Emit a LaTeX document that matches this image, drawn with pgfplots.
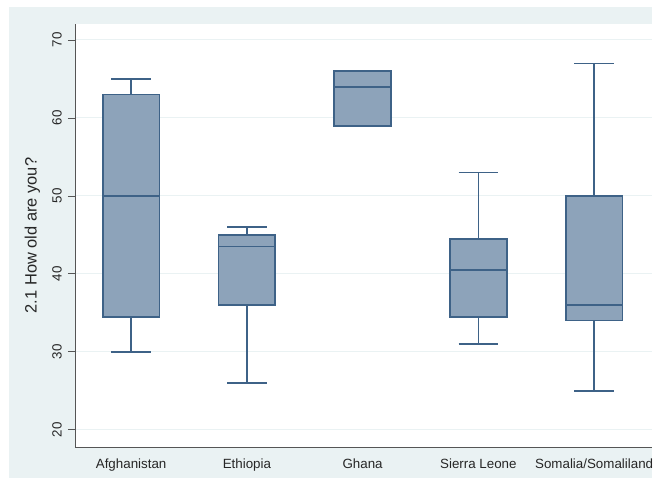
\documentclass[border=0pt]{standalone}
\usepackage{fontspec}
\setmainfont{Liberation Sans}
\usepackage{pgfplots}
\pgfplotsset{compat=1.18}
\definecolor{bgc}{RGB}{234,242,243}
\definecolor{gridc}{RGB}{234,242,243}
\definecolor{boxfill}{RGB}{141,163,186}
\definecolor{boxline}{RGB}{62,98,135}
\definecolor{axc}{RGB}{85,85,85}
\pgfplotsset{bx/.style={draw=boxline, line width=1.6pt, solid, mark=none}}
\begin{document}
\begin{tikzpicture}
\useasboundingbox (0bp,0bp) rectangle (657bp,484bp);
\fill[bgc] (9bp,6bp) rectangle (652bp,477bp);
\begin{axis}[
  at={(75bp,37bp)}, anchor=south west,
  scale only axis, width=577bp, height=423bp,
  xmin=-0.485, xmax=4.5, ymin=17.8, ymax=72.05,
  axis background/.style={fill=white},
  axis x line*=bottom, axis y line*=left,
  axis line style={draw=axc, line width=0.8pt, -},
  xtick={0,1,2,3,4},
  xticklabels={Afghanistan,Ethiopia,Ghana,Sierra Leone,Somalia/Somaliland},
  x tick style={draw=none},
  ytick={20,30,40,50,60,70},
  y tick style={draw=axc, line width=0.8pt},
  major tick length=7bp,
  tick align=outside,
  ymajorgrids, grid style={draw=gridc, line width=1pt},
  /pgf/number format/assume math mode=true,
  tick label style={font=\fontsize{13.4}{15}\selectfont, text=black!85},
  yticklabel style={xshift=-6bp, rotate=90, anchor=south, inner sep=0pt},
  xticklabel style={yshift=-5bp, anchor=north, inner sep=0pt},
  every axis y label/.style={at={(ticklabel cs:0.5)}, xshift=-12bp, rotate=90, anchor=south, inner sep=0pt},
  ylabel={2.1 How old are you?},
  ylabel style={font=\fontsize{16.5}{18}\selectfont, text=black!85},
  clip=false,
]
% boxes: half width 0.245; caps half width 0.17
% Afghanistan
\addplot[bx, fill=boxfill] coordinates {(-0.245,34.5) (0.245,34.5) (0.245,63) (-0.245,63)} -- cycle;
\addplot[bx] coordinates {(-0.245,50) (0.245,50)};
\addplot[bx] coordinates {(0,63) (0,65)};
\addplot[bx] coordinates {(-0.17,65) (0.17,65)};
\addplot[bx] coordinates {(0,34.5) (0,30)};
\addplot[bx] coordinates {(-0.17,30) (0.17,30)};
% Ethiopia
\addplot[bx, fill=boxfill] coordinates {(0.755,36) (1.245,36) (1.245,45) (0.755,45)} -- cycle;
\addplot[bx] coordinates {(0.755,43.5) (1.245,43.5)};
\addplot[bx] coordinates {(1,45) (1,46)};
\addplot[bx] coordinates {(0.83,46) (1.17,46)};
\addplot[bx] coordinates {(1,36) (1,26)};
\addplot[bx] coordinates {(0.83,26) (1.17,26)};
% Ghana
\addplot[bx, fill=boxfill] coordinates {(1.755,59) (2.245,59) (2.245,66) (1.755,66)} -- cycle;
\addplot[bx] coordinates {(1.755,64) (2.245,64)};
% Sierra Leone
\addplot[bx, fill=boxfill] coordinates {(2.755,34.5) (3.245,34.5) (3.245,44.5) (2.755,44.5)} -- cycle;
\addplot[bx] coordinates {(2.755,40.5) (3.245,40.5)};
\addplot[bx] coordinates {(3,44.5) (3,53)};
\addplot[bx] coordinates {(2.83,53) (3.17,53)};
\addplot[bx] coordinates {(3,34.5) (3,31)};
\addplot[bx] coordinates {(2.83,31) (3.17,31)};
% Somalia/Somaliland
\addplot[bx, fill=boxfill] coordinates {(3.755,34) (4.245,34) (4.245,50) (3.755,50)} -- cycle;
\addplot[bx] coordinates {(3.755,36) (4.245,36)};
\addplot[bx] coordinates {(4,50) (4,67)};
\addplot[bx] coordinates {(3.83,67) (4.17,67)};
\addplot[bx] coordinates {(4,34) (4,25)};
\addplot[bx] coordinates {(3.83,25) (4.17,25)};
\end{axis}
\end{tikzpicture}
\end{document}
